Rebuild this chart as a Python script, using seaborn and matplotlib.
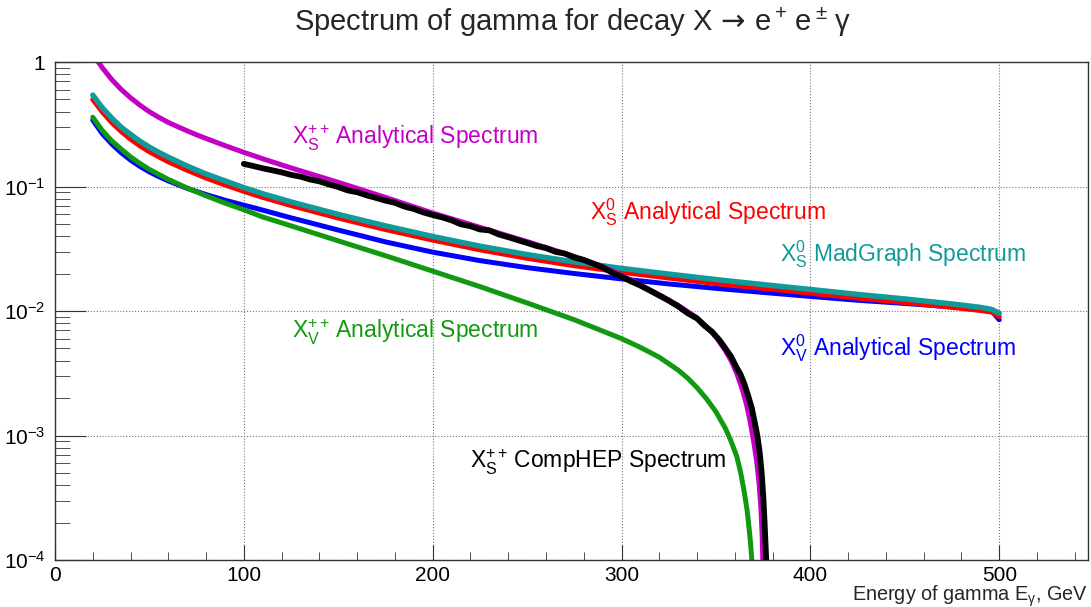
import numpy as np
import pandas as pd
import matplotlib
matplotlib.use("Agg")
import matplotlib.pyplot as plt
import matplotlib.ticker as mticker
import seaborn as sns

# =========================================================
# DATA
# =========================================================

# X_V^0 analytical (blue)
e_v0 = [20, 25, 30, 35, 40, 45, 50, 55, 60, 70, 80, 90, 100, 110, 125, 150,
        175, 200, 225, 250, 275, 300, 325, 350, 375, 400, 425, 450, 475, 490,
        496, 500]
f_v0 = [0.342, 0.266, 0.220, 0.187, 0.163, 0.145, 0.131, 0.120, 0.111,
        0.0966, 0.0861, 0.0776, 0.0708, 0.0646, 0.0560, 0.0447, 0.0359,
        0.0297, 0.0254, 0.0223, 0.0200, 0.0181, 0.0165, 0.0152, 0.0141,
        0.0131, 0.0122, 0.0115, 0.0108, 0.0104, 0.0100, 0.0085]

# X_V^++ analytical (green)
e_vpp = [20, 25, 30, 35, 40, 45, 50, 55, 60, 70, 80, 90, 100, 110, 125, 150,
         175, 200, 225, 250, 275, 290, 300, 310, 320, 330, 335, 340, 345, 350,
         355, 358, 361, 363, 365, 366.5, 367.5, 368.3, 369]
f_vpp = [0.360, 0.282, 0.233, 0.200, 0.173, 0.153, 0.137, 0.125, 0.114,
         0.0973, 0.0841, 0.0736, 0.0650, 0.0569, 0.0483, 0.0366, 0.0278,
         0.0209, 0.0157, 0.0116, 0.0085, 0.0069, 0.0060, 0.0051, 0.00425,
         0.00335, 0.00289, 0.00242, 0.00197, 0.00155, 0.00114, 0.00090,
         0.00068, 0.00051, 0.00035, 0.00025, 0.000182, 0.000137, 0.0001]

# X_S^0 analytical (red)
e_s0 = [20, 25, 30, 35, 40, 45, 50, 55, 60, 70, 80, 90, 100, 110, 125, 150,
        175, 200, 225, 250, 275, 300, 325, 350, 375, 400, 425, 450, 475, 490,
        496, 500]
f_s0 = [0.500, 0.398, 0.327, 0.277, 0.240, 0.212, 0.190, 0.173, 0.158,
        0.135, 0.117, 0.103, 0.0914, 0.0818, 0.0703, 0.0558, 0.0451, 0.0371,
        0.0310, 0.0265, 0.0231, 0.0205, 0.0184, 0.0166, 0.0152, 0.0139,
        0.0127, 0.0117, 0.0107, 0.0101, 0.0098, 0.0090]

# X_S^0 MadGraph (teal)
e_s0_mg = [20, 25, 30, 35, 40, 45, 50, 55, 60, 70, 80, 90, 100, 110, 125,
           150, 175, 200, 225, 250, 275, 300, 325, 350, 375, 400, 425, 450,
           475, 490, 496, 500]
f_s0_mg = [0.543, 0.43, 0.355, 0.30, 0.262, 0.231, 0.207, 0.188, 0.172,
           0.146, 0.126, 0.111, 0.098, 0.0875, 0.0752, 0.0597, 0.0483,
           0.0397, 0.0332, 0.0284, 0.0248, 0.0220, 0.0198, 0.0179, 0.0163,
           0.0149, 0.0136, 0.0125, 0.0114, 0.0107, 0.0103, 0.0096]

# X_S^++ analytical (magenta)
e_spp = [20, 22, 25, 30, 35, 40, 45, 50, 55, 60, 65, 70, 75, 80, 90, 100,
         110, 125, 150, 175, 200, 225, 250, 275, 290, 300, 310, 320, 330, 340,
         345, 350, 355, 358, 361, 364, 366.3, 368, 370, 371.5, 372.8, 373.8,
         374.4, 374.8]
f_spp = [1.148, 1.047, 0.902, 0.724, 0.603, 0.516, 0.450, 0.398, 0.359,
         0.327, 0.302, 0.280, 0.260, 0.243, 0.213, 0.188, 0.167, 0.141,
         0.108, 0.0817, 0.0612, 0.0470, 0.0361, 0.0274, 0.0228, 0.0194,
         0.0162, 0.0135, 0.0111, 0.0088, 0.0075, 0.0062, 0.0048, 0.0040,
         0.00316, 0.00234, 0.00174, 0.00132, 0.00089, 0.00063, 0.00042,
         0.00026, 0.000166, 0.0001]

# X_S^++ CompHEP (black)
e_chep = [100, 105, 110, 115, 120, 125, 130, 135, 140, 145, 150, 155, 160,
          165, 170, 175, 180, 185, 190, 195, 200, 205, 210, 215, 220, 225,
          230, 235, 240, 245, 250, 255, 260, 265, 270, 275, 280, 285, 290,
          295, 300, 305, 310, 315, 320, 325, 330, 335, 340, 344, 348, 352,
          355, 358, 361, 363, 365, 367, 369, 370.5, 372, 373.2, 374.2, 375,
          375.6, 376.1, 376.6]
f_chep = [0.152, 0.146, 0.140, 0.135, 0.130, 0.124, 0.120, 0.114, 0.110,
          0.104, 0.099, 0.093, 0.090, 0.085, 0.081, 0.077, 0.074, 0.069,
          0.066, 0.062, 0.059, 0.0565, 0.0535, 0.0497, 0.0480, 0.0452,
          0.0444, 0.0412, 0.0392, 0.0371, 0.0352, 0.0333, 0.0320, 0.0299,
          0.0289, 0.0269, 0.0257, 0.0240, 0.0224, 0.0203, 0.0189, 0.0173,
          0.0160, 0.0146, 0.0133, 0.0121, 0.0109, 0.0096, 0.0087, 0.0076,
          0.0068, 0.0058, 0.0050, 0.0043, 0.0035, 0.0031, 0.0026, 0.0021,
          0.00165, 0.00128, 0.00098, 0.00072, 0.00050, 0.00033, 0.00022,
          0.00015, 0.0001]

curve_names = ["XV0", "XVpp", "XS0", "XS0_MG", "XSpp", "XSpp_CompHEP"]
curve_colors = ["#0000ff", "#129912", "#ff0000", "#119a9a", "#c400c4", "#000000"]
curve_widths = [3.6, 3.6, 3.6, 3.9, 3.6, 4.2]

labels = [
    r"$\mathregular{X_V^0}$ Analytical Spectrum",
    r"$\mathregular{X_V^{++}}\!$ Analytical Spectrum",
    r"$\mathregular{X_S^0}$ Analytical Spectrum",
    r"$\mathregular{X_S^0}$ MadGraph Spectrum",
    r"$\mathregular{X_S^{++}}\!$ Analytical Spectrum",
    r"$\mathregular{X_S^{++}}\!$ CompHEP Spectrum",
]
label_x = [384, 125.5, 283.5, 384, 125.5, 220]
label_y = [0.0050, 0.0067, 0.062, 0.0285, 0.245, 0.00061]

# =========================================================
# BUILD TABLE
# =========================================================

frames = []
for name, e, f in zip(curve_names,
                      [e_v0, e_vpp, e_s0, e_s0_mg, e_spp, e_chep],
                      [f_v0, f_vpp, f_s0, f_s0_mg, f_spp, f_chep]):
    frames.append(pd.DataFrame({"E": e, "dN": f, "curve": name}))
df = pd.concat(frames, ignore_index=True)

# =========================================================
# PLOT
# =========================================================

sns.set_style("ticks")
plt.rcParams["font.family"] = ["Liberation Sans", "DejaVu Sans"]

fig = plt.figure(figsize=(10.91, 6.07), dpi=100)
ax = fig.add_axes([55 / 1091, 1 - 560 / 607, 1033 / 1091, 498 / 607])

# one call per curve so each keeps its own width; drawing order = list order
for name, col, lw in zip(curve_names, curve_colors, curve_widths):
    sns.lineplot(
        data=df[df["curve"] == name], x="E", y="dN",
        color=col, estimator=None, sort=False, linewidth=lw,
        legend=False, ax=ax
    )

ax.set_yscale("log")
ax.set_xlim(0, 547)
ax.set_ylim(1e-4, 1)

# ticks, ROOT-like
ax.xaxis.set_major_locator(mticker.MultipleLocator(100))
ax.xaxis.set_minor_locator(mticker.MultipleLocator(20))
ax.yaxis.set_major_locator(mticker.FixedLocator([1e-4, 1e-3, 1e-2, 1e-1, 1]))
ax.yaxis.set_minor_locator(mticker.LogLocator(base=10, subs=np.arange(2, 10)))
ax.yaxis.set_minor_formatter(mticker.NullFormatter())
ax.yaxis.set_major_formatter(mticker.FixedFormatter(
    [r"$\mathregular{10^{-4}}$", r"$\mathregular{10^{-3}}$",
     r"$\mathregular{10^{-2}}$", r"$\mathregular{10^{-1}}$", "1"]))

ax.tick_params(axis="both", which="both", direction="in", colors="#333333",
               labelcolor="black", labelsize=15)
ax.tick_params(axis="x", which="major", length=11, pad=4)
ax.tick_params(axis="x", which="minor", length=5.5)
ax.tick_params(axis="y", which="major", length=22, pad=7)
ax.tick_params(axis="y", which="minor", length=11)

ax.grid(True, which="major", linestyle=":", color="#777777", linewidth=0.8)
for s in ax.spines.values():
    s.set_color("#333333")
    s.set_linewidth(1.0)

ax.set_xlabel("")
ax.set_ylabel("")

for txt, xx, yy, col in zip(labels, label_x, label_y, curve_colors):
    ax.text(xx, yy, txt, color=col, fontsize=16.5, ha="left", va="center")

ax.text(1.0, -0.073, r"Energy of gamma E$\mathregular{_\gamma}$, GeV",
        transform=ax.transAxes, ha="right", va="center", fontsize=14.3)

fig.text(0.525, 1 - 22 / 607,
         r"Spectrum of gamma for decay X $\!\rightarrow\!$ e$\mathregular{^+}\!$ e$\mathregular{^\pm}\!$ γ",
         ha="center", va="center", fontsize=21)

plt.savefig("out.png", dpi=100)
plt.close()
